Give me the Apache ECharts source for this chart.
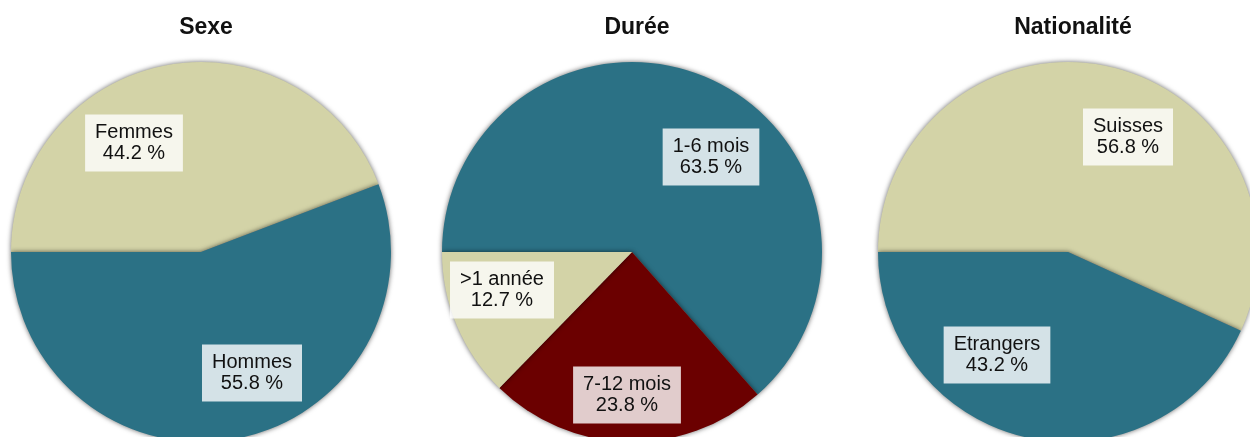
<!DOCTYPE html>
<html>
<head>
<meta charset="utf-8">
<script src="https://cdn.jsdelivr.net/npm/echarts@6/dist/echarts.min.js"></script>
<style>
  html, body { margin: 0; padding: 0; background: #fff; }
  #chart { width: 1250px; height: 437px; }
</style>
</head>
<body>
<div id="chart"></div>
<script>
// titres des trois camemberts
var titles = ['Sexe', 'Durée', 'Nationalité'];

// Sexe
var sexeNames = ['Femmes', 'Hommes'];
var sexeValues = [44.2, 55.8];

// Durée
var dureeNames = ['1-6 mois', '7-12 mois', '>1 année'];
var dureeValues = [63.5, 23.8, 12.7];

// Nationalité
var natNames = ['Suisses', 'Etrangers'];
var natValues = [56.8, 43.2];

var TEAL = '#2b7185', BEIGE = '#d3d3a7', RED = '#6b0000';

var sexeColors = [BEIGE, TEAL];
var dureeColors = [TEAL, RED, BEIGE];
var natColors = [BEIGE, TEAL];

// centres des camemberts (px) et position des étiquettes
var centers = [[201, 252], [632, 252], [1068, 252]];
var labelPos = [
  [[134, 143], [252, 373]],
  [[711, 157], [627, 395], [502, 290]],
  [[1128, 137], [997, 355]]
];

function toData(names, values, colors) {
  return names.map(function (n, i) {
    return { name: n, value: values[i], itemStyle: { color: colors[i] } };
  });
}

var datasets = [
  toData(sexeNames, sexeValues, sexeColors),
  toData(dureeNames, dureeValues, dureeColors),
  toData(natNames, natValues, natColors)
];

var myChart = echarts.init(document.getElementById('chart'));

myChart.setOption({
  animation: false,
  title: titles.map(function (t, i) {
    return {
      text: t,
      left: centers[i][0],
      top: 11,
      textAlign: 'center',
      textStyle: {
        fontFamily: 'Liberation Sans, Arial, sans-serif',
        fontWeight: 'bold',
        fontSize: 23,
        color: '#111'
      }
    };
  }),
  series: datasets.map(function (d, si) {
    return {
      type: 'pie',
      center: centers[si],
      radius: 190,
      startAngle: 180,
      clockwise: true,
      silent: true,
      itemStyle: {
        borderWidth: 0,
        shadowBlur: 5,
        shadowColor: 'rgba(0,0,0,0.6)'
      },
      label: {
        show: true,
        position: 'inside',
        formatter: function (p) {
          return p.name + '\n' + p.value.toFixed(1) + ' %';
        },
        fontFamily: 'Liberation Sans, Arial, sans-serif',
        fontSize: 20,
        lineHeight: 21,
        color: '#111',
        align: 'center',
        backgroundColor: 'rgba(255,255,255,0.8)',
        padding: [8, 10, 7, 10]
      },
      labelLine: { show: false },
      labelLayout: function (params) {
        var p = labelPos[si][params.dataIndex];
        return { x: p[0], y: p[1], align: 'center', verticalAlign: 'middle' };
      },
      data: d
    };
  })
});
</script>
</body>
</html>
